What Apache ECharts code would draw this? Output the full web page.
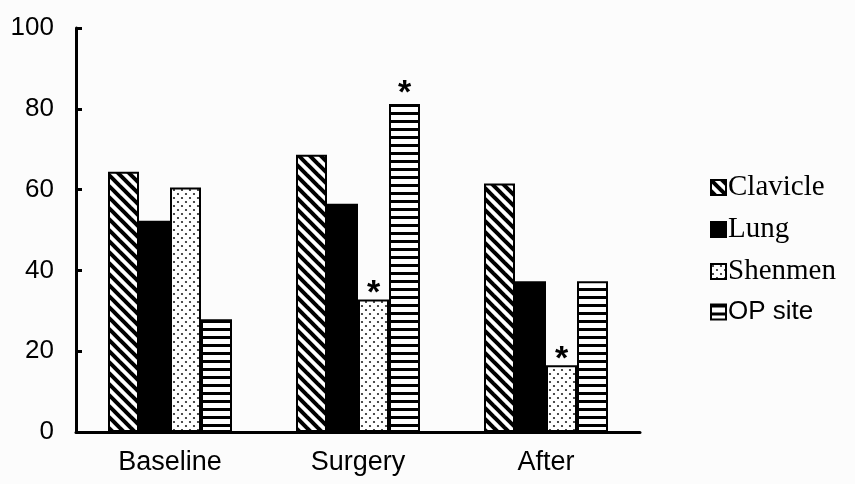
<!DOCTYPE html>
<html>
<head>
<meta charset="utf-8">
<script src="https://cdn.jsdelivr.net/npm/echarts@6/dist/echarts.min.js"></script>
<style>
html,body{margin:0;padding:0;background:#fcfcfc;}
#chart{width:855px;height:484px;}
</style>
</head>
<body>
<div id="chart"></div>
<script>
// ---- data ----
var categories = ['Baseline', 'Surgery', 'After'];
var seriesNames = ['Clavicle', 'Lung', 'Shenmen', 'OP site'];
var clavicle = [64.4, 68.6, 61.5];
var lung = [52.3, 56.5, 37.3];
var shenmen = [60.5, 32.8, 16.5];
var opSite = [27.9, 81.2, 37.3];
// significance marks (* above bar)
var shenmenSig = [false, true, true];
var opSiteSig = [false, true, false];
var yTicks = [0, 20, 40, 60, 80, 100];

// ---- patterns ----
function diagTile() {
  var s = 11, c = document.createElement('canvas');
  c.width = s; c.height = s;
  var g = c.getContext('2d');
  g.fillStyle = '#fff'; g.fillRect(0, 0, s, s);
  g.strokeStyle = '#000'; g.lineWidth = 4;
  for (var k = -1; k <= 1; k++) {
    g.beginPath(); g.moveTo(-2, -2 + k * s); g.lineTo(s + 2, s + 2 + k * s); g.stroke();
  }
  return c;
}
function hTile() {
  var c = document.createElement('canvas');
  c.width = 8; c.height = 8;
  var g = c.getContext('2d');
  g.fillStyle = '#fff'; g.fillRect(0, 0, 8, 8);
  g.fillStyle = '#000'; g.fillRect(0, 0, 8, 3);
  return c;
}
function dotTile() {
  var c = document.createElement('canvas');
  c.width = 8; c.height = 8;
  var g = c.getContext('2d');
  g.fillStyle = '#fff'; g.fillRect(0, 0, 8, 8);
  g.fillStyle = '#222';
  g.beginPath(); g.arc(2, 2, 1.1, 0, Math.PI * 2); g.fill();
  g.beginPath(); g.arc(6, 6, 1.1, 0, Math.PI * 2); g.fill();
  return c;
}
var fills = [
  { image: diagTile(), repeat: 'repeat' },
  '#000',
  { image: dotTile(), repeat: 'repeat' },
  { image: hTile(), repeat: 'repeat' }
];

function withSig(vals, sig, dist) {
  return vals.map(function (v, i) {
    if (sig && sig[i]) {
      return { value: v, label: { show: true, formatter: '*', position: 'top', distance: dist,
        fontSize: 34, fontWeight: 'bold', color: '#000', fontFamily: 'Liberation Sans' } };
    }
    return v;
  });
}
var dataSets = [withSig(clavicle), withSig(lung), withSig(shenmen, shenmenSig, -11), withSig(opSite, opSiteSig, -7)];

var chart = echarts.init(document.getElementById('chart'), null, { renderer: 'canvas' });
chart.setOption({
  backgroundColor: '#fcfcfc',
  animation: false,
  grid: { left: 76, right: 215, top: 28, bottom: 52 },
  legend: {
    orient: 'vertical', left: 705, top: 168,
    itemWidth: 15, itemHeight: 15, itemGap: 13,
    icon: 'rect',
    data: seriesNames,
    formatter: function (n) { return n === 'OP site' ? '{s|' + n + '}' : '{t|' + n + '}'; },
    textStyle: {
      color: '#000', padding: [0, 0, 0, -3],
      rich: {
        t: { fontFamily: 'Liberation Serif', fontSize: 29, color: '#000', lineHeight: 30 },
        s: { fontFamily: 'Liberation Sans', fontSize: 26, color: '#000', lineHeight: 30 }
      }
    }
  },
  xAxis: {
    type: 'category', data: categories,
    axisLine: { lineStyle: { color: '#000', width: 3 } },
    axisTick: { show: false },
    axisLabel: { color: '#000', fontFamily: 'Liberation Sans', fontSize: 27, margin: 17 }
  },
  yAxis: {
    type: 'value', min: 0, max: 100, interval: 20,
    axisLine: { show: true, lineStyle: { color: '#000', width: 3 } },
    axisTick: { show: true, inside: true, length: 6, lineStyle: { color: '#000', width: 3 } },
    splitLine: { show: false },
    axisLabel: { color: '#000', fontFamily: 'Liberation Sans', fontSize: 26, margin: 22,
      padding: [8, 0, 0, 0],
      formatter: function (v) { return yTicks.indexOf(v) >= 0 ? String(v) : ''; } }
  },
  series: seriesNames.map(function (n, i) {
    return {
      name: n, type: 'bar', barWidth: 31, barGap: '0%',
      data: dataSets[i],
      itemStyle: { color: fills[i], borderColor: '#000', borderWidth: 2 }
    };
  })
});
</script>
</body>
</html>
